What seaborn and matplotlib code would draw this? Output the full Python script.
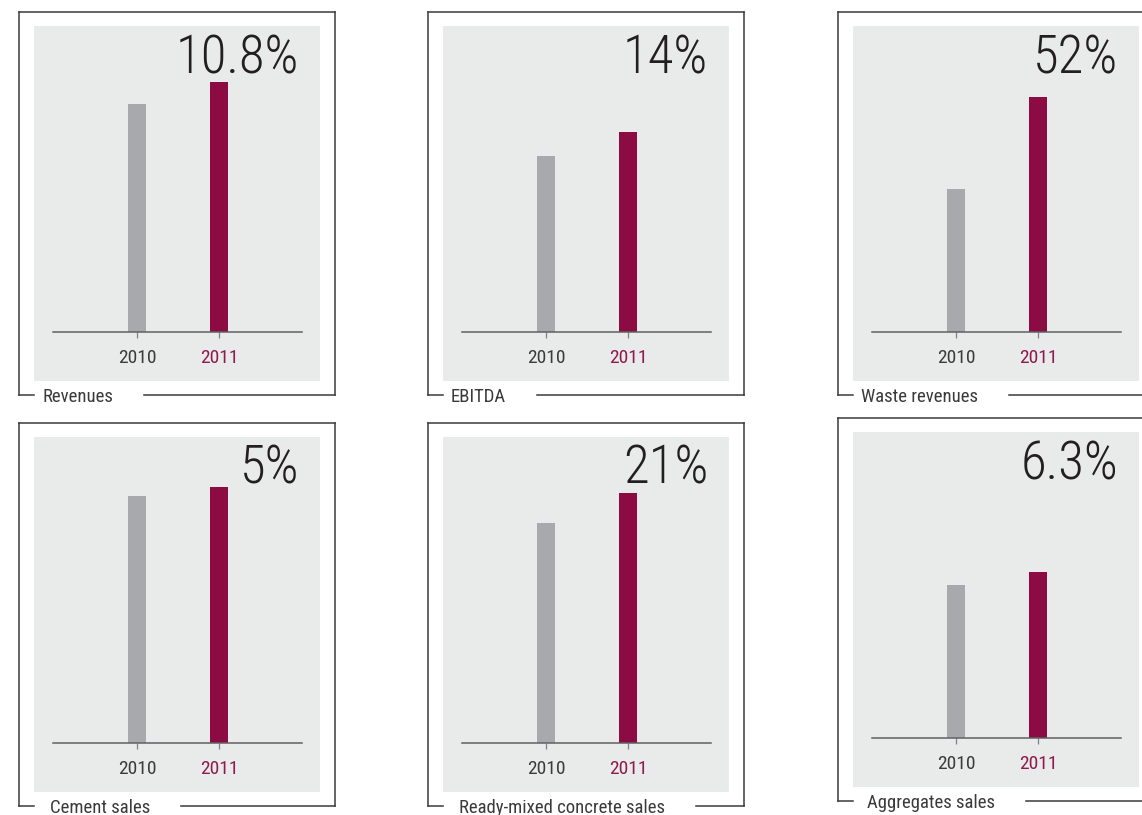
import matplotlib
matplotlib.use("Agg")
import matplotlib.pyplot as plt
import seaborn as sns
import pandas as pd

# ---- data -------------------------------------------------------------
titles = ["Revenues", "EBITDA", "Waste revenues",
          "Cement sales", "Ready-mixed concrete sales", "Aggregates sales"]
growth_labels = ["10.8%", "14%", "52%", "5%", "21%", "6.3%"]
years = ["2010", "2011"]
values_2010 = [228, 176, 143, 247, 220, 153]
values_2011 = [250, 200, 235, 256, 250, 166]

# ---- styling ----------------------------------------------------------
GREY_BAR = "#a8a9ac"
MAROON = "#8b0b42"
PANEL_BG = "#e9eaea"
FRAME = "#3a3a3a"
INK = "#231f20"
AXIS_LINE = "#5f6062"
YEAR_COLORS = ["#3b3b3b", "#8e1a4e"]

W, H = 1142, 815

sns.set_theme(style="white")
plt.rcParams["font.family"] = ["Liberation Sans Narrow", "Roboto Condensed",
                               "Archivo Narrow", "Sofia Sans Condensed", "DejaVu Sans"]

# panel layout in pixels (frame top-left corner)
frame_left = [19, 428, 838, 19, 428, 838]
frame_top = [12, 12, 12, 423, 423, 418]
title_gap = [8, 8, 8, 16, 16, 14]
FRAME_W, FRAME_H = 316, 383
INSET_X, INSET_Y = 15, 14
PANEL_W, PANEL_H = 286, 355
BASE_FROM_TOP = 306          # baseline distance from top of grey panel
FIRST_BAR = 103              # first bar centre from left of grey panel
BAR_STEP = 82                # distance between bar centres
BAR_W = 18.5

fig = plt.figure(figsize=(W / 100, H / 100), dpi=100)
fig.patch.set_facecolor("white")

overlay = fig.add_axes([0, 0, 1, 1], zorder=5)
overlay.set_xlim(0, W)
overlay.set_ylim(H, 0)
overlay.axis("off")

title_texts = []
for i in range(6):
    fl, ft = frame_left[i], frame_top[i]
    gl, gt = fl + INSET_X, ft + INSET_Y

    ax = fig.add_axes([gl / W, 1 - (gt + PANEL_H) / H, PANEL_W / W, PANEL_H / H])
    ax.set_facecolor(PANEL_BG)

    df = pd.DataFrame({"year": years, "value": [values_2010[i], values_2011[i]]})
    sns.barplot(data=df, x="year", y="value", hue="year",
                palette=[GREY_BAR, MAROON], width=BAR_W / BAR_STEP,
                saturation=1, legend=False, linewidth=0, ax=ax)

    x0 = -FIRST_BAR / BAR_STEP
    ax.set_xlim(x0, x0 + PANEL_W / BAR_STEP)
    ax.set_ylim(-(PANEL_H - BASE_FROM_TOP), BASE_FROM_TOP)

    for side in ("top", "left", "right"):
        ax.spines[side].set_visible(False)
    sp = ax.spines["bottom"]
    sp.set_position(("data", 0))
    sp.set_bounds(x0 + 19 / BAR_STEP, x0 + 268 / BAR_STEP)
    sp.set_color(AXIS_LINE)
    sp.set_linewidth(1.1)
    sp.set_visible(True)

    ax.set_yticks([])
    ax.set_xlabel("")
    ax.set_ylabel("")
    ax.tick_params(axis="x", bottom=True, length=4.3, width=0.9,
                   color="#808184", pad=8, labelsize=14, direction="out")
    for lbl, c in zip(ax.get_xticklabels(), YEAR_COLORS):
        lbl.set_color(c)

    # growth figure, top right of the grey panel
    overlay.text(gl + PANEL_W - 21, gt + 47, growth_labels[i], ha="right",
                 va="baseline", fontsize=38, fontweight="light", color=INK)

    # open frame around the panel
    fr, fb = fl + FRAME_W, ft + FRAME_H
    kw = dict(color=FRAME, lw=1.1, solid_capstyle="projecting")
    overlay.plot([fl, fr], [ft, ft], **kw)
    overlay.plot([fl, fl], [ft, fb], **kw)
    overlay.plot([fr, fr], [ft, fb], **kw)
    overlay.plot([fl, gl], [fb, fb], **kw)
    t = overlay.text(gl + title_gap[i], fb + 7, titles[i], ha="left",
                     va="baseline", fontsize=13.5, color="#3a3a3a")
    title_texts.append((t, fr, fb))

fig.canvas.draw()
renderer = fig.canvas.get_renderer()
for t, fr, fb in title_texts:
    end = t.get_window_extent(renderer).x1
    overlay.plot([end + 31, fr], [fb, fb], color=FRAME, lw=1.1,
                 solid_capstyle="projecting")

fig.savefig("out.png", dpi=100)
